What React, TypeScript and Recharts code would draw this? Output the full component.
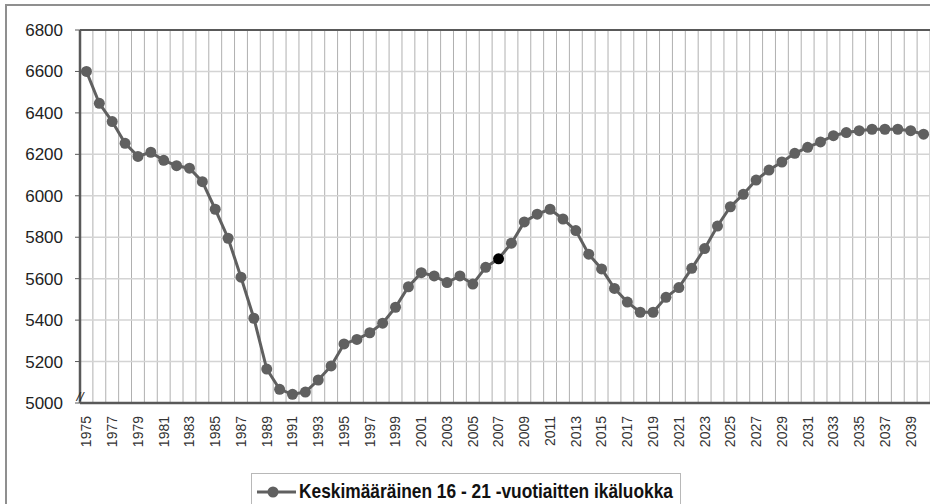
import React from 'react';
import {
  LineChart,
  Line,
  XAxis,
  YAxis,
  CartesianGrid,
  ReferenceLine,
} from 'recharts';

const years = [
  1975, 1976, 1977, 1978, 1979, 1980, 1981, 1982, 1983, 1984,
  1985, 1986, 1987, 1988, 1989, 1990, 1991, 1992, 1993, 1994,
  1995, 1996, 1997, 1998, 1999, 2000, 2001, 2002, 2003, 2004,
  2005, 2006, 2007, 2008, 2009, 2010, 2011, 2012, 2013, 2014,
  2015, 2016, 2017, 2018, 2019, 2020, 2021, 2022, 2023, 2024,
  2025, 2026, 2027, 2028, 2029, 2030, 2031, 2032, 2033, 2034,
  2035, 2036, 2037, 2038, 2039, 2040,
];

const ageGroup = [
  6600, 6446, 6358, 6253, 6190, 6210, 6171, 6145, 6133, 6068,
  5935, 5795, 5607, 5409, 5164, 5066, 5042, 5053, 5111, 5179,
  5285, 5307, 5339, 5385, 5462, 5561, 5629, 5613, 5581, 5613,
  5574, 5655, 5696, 5771, 5874, 5911, 5935, 5888, 5832, 5718,
  5647, 5553, 5487, 5438, 5438, 5510, 5557, 5650, 5745, 5854,
  5947, 6007, 6076, 6124, 6163, 6205, 6234, 6260, 6290, 6305,
  6314, 6321, 6321, 6321, 6314, 6297,
];

const yearLabels = [
  1975, 1977, 1979, 1981, 1983, 1985, 1987, 1989, 1991, 1993,
  1995, 1997, 1999, 2001, 2003, 2005, 2007, 2009, 2011, 2013,
  2015, 2017, 2019, 2021, 2023, 2025, 2027, 2029, 2031, 2033,
  2035, 2037, 2039,
];

const valueTicks = [5000, 5200, 5400, 5600, 5800, 6000, 6200, 6400, 6600, 6800];

// the current year is drawn black
const highlightYear = 2007;

const seriesName = 'Keskimääräinen 16 - 21 -vuotiaitten ikäluokka';

const data = years.map((year, i) => ({ year, value: ageGroup[i] }));

const xDomain: [number, number] = [years[0] - 0.5, years[years.length - 1] + 0.5];

// grid lines sit between the years, not on them
const yearBounds = [...years.map((y) => y - 0.5), years[years.length - 1] + 0.5];

const FONT = '"Liberation Sans", Arial, sans-serif';

const YearTick = (props: any) => {
  const { x, y, payload } = props;
  return (
    <g transform={`translate(${x},${y})`}>
      <text
        transform="rotate(-90)"
        x={-11}
        y={0}
        dy="0.35em"
        textAnchor="end"
        fontSize={14}
        fontFamily={FONT}
        fill="#333"
      >
        {payload.value}
      </text>
    </g>
  );
};

const ValueTick = (props: any) => {
  const { x, y, payload } = props;
  return (
    <g>
      <text x={x} y={y} dy="0.355em" textAnchor="end" fontSize={17} fontFamily={FONT} fill="#222">
        {payload.value}
      </text>
      {payload.value === 5000 && (
        <text x={x + 17} y={y - 2} textAnchor="middle" fontSize={13} fontStyle="italic" fontFamily={FONT} fill="#222">
          //
        </text>
      )}
    </g>
  );
};

const YearDot = (props: any) => {
  const { cx, cy, payload } = props;
  const fill = payload.year === highlightYear ? '#000' : '#606060';
  return <circle key={payload.year} cx={cx} cy={cy} r={5.5} fill={fill} stroke="none" />;
};

// vertical lines between the years, spread over the plot width
const boundaryLines = ({ offset }: any) => {
  if (!offset) return [];
  const span = xDomain[1] - xDomain[0];
  return yearBounds.map((b) => offset.left + ((b - xDomain[0]) / span) * offset.width);
};

export default function App() {
  return (
    <div style={{ position: 'absolute', left: 0, top: 0, width: 930, height: 504, overflow: 'hidden', background: '#fff' }}>
      <div
        style={{
          position: 'absolute',
          left: 5,
          top: 4,
          width: 1000,
          height: 600,
          border: '2px solid #8f8f8f',
          boxSizing: 'border-box',
        }}
      />
      <div style={{ position: 'absolute', left: 0, top: 0 }}>
        <LineChart width={930} height={504} data={data} margin={{ top: 30, right: 0, left: 0, bottom: 0 }}>
          <CartesianGrid
            stroke="#b0b0b0"
            strokeWidth={1}
            horizontal={false}
            verticalCoordinatesGenerator={boundaryLines}
          />
          <CartesianGrid stroke="#d4d4d4" strokeWidth={1.5} vertical={false} />
          <XAxis
            type="number"
            dataKey="year"
            domain={xDomain}
            ticks={yearLabels}
            interval={0}
            height={101}
            tick={<YearTick />}
            tickLine={false}
            tickSize={0}
            axisLine={{ stroke: '#595959', strokeWidth: 2.5 }}
            allowDataOverflow
          />
          <YAxis
            type="number"
            domain={[5000, 6800]}
            ticks={valueTicks}
            width={80}
            tickSize={5}
            tickMargin={12}
            tick={<ValueTick />}
            tickLine={{ stroke: '#595959' }}
            axisLine={{ stroke: '#595959', strokeWidth: 2.5 }}
            interval={0}
          />
          <ReferenceLine y={6800} stroke="#595959" strokeWidth={2} />
          <Line
            type="linear"
            dataKey="value"
            name={seriesName}
            stroke="#606060"
            strokeWidth={3}
            dot={<YearDot />}
            activeDot={false}
            isAnimationActive={false}
          />
        </LineChart>
      </div>
      <div
        style={{
          position: 'absolute',
          left: 251,
          top: 473,
          width: 430,
          height: 45,
          border: '1px solid #b8b8b8',
          boxSizing: 'border-box',
          background: '#fff',
        }}
      >
        <svg width={428} height={30} style={{ position: 'absolute', left: 0, top: 0 }}>
          <line x1={5} y1={18} x2={44} y2={18} stroke="#606060" strokeWidth={3} />
          <circle cx={21} cy={18} r={5.5} fill="#606060" />
          <text
            x={47}
            y={24}
            fontFamily={FONT}
            fontWeight="bold"
            fontSize={20.5}
            fill="#111"
            textLength={374}
            lengthAdjust="spacingAndGlyphs"
          >
            {seriesName}
          </text>
        </svg>
      </div>
    </div>
  );
}
